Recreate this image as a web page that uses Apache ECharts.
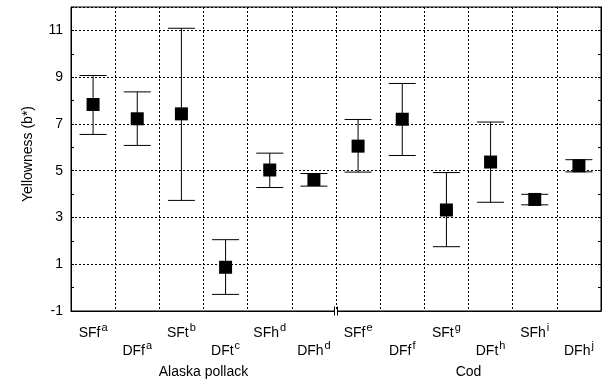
<!DOCTYPE html>
<html><head><meta charset="utf-8">
<script src="https://cdn.jsdelivr.net/npm/echarts@6/dist/echarts.min.js"></script>
<style>html,body{margin:0;padding:0;background:#fff}#c{width:612px;height:385px}</style>
</head><body><div id="c"></div>
<script>
const categories = ['SFf','DFf','SFt','DFt','SFh','DFh','SFf','DFf','SFt','DFt','SFh','DFh'];
const supers = ['a','a','b','c','d','d','e','f','g','h','i','j'];
const means = [7.83, 7.22, 7.43, 0.87, 5.03, 4.62, 6.05, 7.20, 3.32, 5.37, 3.77, 5.21];
const upper = [9.07, 8.37, 11.09, 2.05, 5.75, 4.88, 7.19, 8.73, 4.92, 7.08, 3.99, 5.47];
const lower = [6.55, 6.08, 3.73, -0.29, 4.28, 4.34, 4.94, 5.65, 1.75, 3.65, 3.54, 4.95];
const groups = ['Alaska pollack', 'Cod'];
const yMin = -1, yMax = 12, yStep = 2;

const FONT = '"Liberation Sans", Arial, sans-serif';
const catIds = categories.map((c, i) => c + '^' + supers[i]);
const rich = {
  n: {fontFamily: FONT, fontSize: 14, color: '#000'},
  s: {fontFamily: FONT, fontSize: 11, color: '#000', padding: [0, 0, 12, 1]}
};
function fmt(v, i) { return '{n|' + categories[i] + '}{s|' + supers[i] + '}'; }

const chart = echarts.init(document.getElementById('c'), null, {renderer: 'canvas'});
const grid = {left: 71, right: 11, top: 7, bottom: 74, show: true, borderColor: '#000', borderWidth: 1, containLabel: false};
const option = {
  animation: false,
  grid: grid,
  xAxis: [
    {type: 'category', data: catIds, position: 'bottom',
     axisLine: {onZero: false, lineStyle: {color: '#000', width: 1}}, axisTick: {show: false},
     splitLine: {show: true, interval: 0, lineStyle: {color: '#000', type: [2, 2], width: 1}},
     axisLabel: {interval: (i) => i % 2 === 0, margin: 11, formatter: fmt, rich: rich}},
    {type: 'category', data: catIds, position: 'bottom',
     axisLine: {show: false, onZero: false}, axisTick: {show: false}, splitLine: {show: false},
     axisLabel: {interval: (i) => i % 2 === 1, margin: 29, formatter: fmt, rich: rich}},
    {type: 'category', data: groups, position: 'bottom',
     axisLine: {show: false, onZero: false}, axisTick: {show: false}, splitLine: {show: false},
     axisLabel: {interval: 0, margin: 54, fontFamily: FONT, fontSize: 14, color: '#000'}}
  ],
  yAxis: [
    {type: 'value', min: yMin, max: yMax, interval: yStep, position: 'left',
     name: 'Yellowness (b*)', nameLocation: 'middle', nameGap: 36,
     nameTextStyle: {fontFamily: FONT, fontSize: 14, color: '#000', padding: [0, 0, 0, 10]},
     axisLine: {show: true, lineStyle: {color: '#000'}},
     axisTick: {show: true, inside: true, length: 3, lineStyle: {color: '#000'}},
     minorTick: {show: true, splitNumber: 2, length: 3, lineStyle: {color: '#000'}},
     splitLine: {show: true, lineStyle: {color: '#000', type: [2, 2], width: 1}},
     axisLabel: {margin: 8, fontFamily: FONT, fontSize: 14, color: '#000',
                 showMaxLabel: false,
                 formatter: (v) => (v > 11.5 ? '' : String(v))}},
    {type: 'value', min: yMin, max: yMax, interval: yStep, position: 'right',
     axisLine: {show: true, lineStyle: {color: '#000'}},
     axisTick: {show: true, inside: true, length: 3, lineStyle: {color: '#000'}},
     minorTick: {show: true, splitNumber: 2, length: 3, lineStyle: {color: '#000'}},
     splitLine: {show: false}, axisLabel: {show: false}}
  ],
  series: [
    {type: 'custom', xAxisIndex: 0, yAxisIndex: 0,
     data: categories.map((c, i) => [i, lower[i], upper[i]]),
     renderItem: function (params, api) {
       const x = api.value(0);
       const lo = api.coord([x, api.value(1)]);
       const hi = api.coord([x, api.value(2)]);
       const hw = 13.5;
       const st = {stroke: '#000', lineWidth: 1};
       return {type: 'group', children: [
         {type: 'line', shape: {x1: lo[0], y1: lo[1], x2: hi[0], y2: hi[1]}, style: st},
         {type: 'line', shape: {x1: lo[0] - hw, y1: lo[1], x2: lo[0] + hw, y2: lo[1]}, style: st},
         {type: 'line', shape: {x1: hi[0] - hw, y1: hi[1], x2: hi[0] + hw, y2: hi[1]}, style: st}
       ]};
     }, z: 3},
    {type: 'scatter', xAxisIndex: 0, yAxisIndex: 0, symbol: 'rect', symbolSize: 13,
     itemStyle: {color: '#000', opacity: 1}, data: means.map((m, i) => [i, m]), z: 4}
  ]
};
chart.setOption(option);
// axis break mark between the two groups
const p5 = chart.convertToPixel({xAxisIndex: 0, yAxisIndex: 0}, [5, yMin]);
const p6 = chart.convertToPixel({xAxisIndex: 0, yAxisIndex: 0}, [6, yMin]);
const bx = (p5[0] + p6[0]) / 2, by = p5[1];
chart.setOption({graphic: [
  {type: 'rect', shape: {x: bx - 1.5, y: by - 1, width: 3, height: 2}, style: {fill: '#fff'}, z: 100},
  {type: 'line', shape: {x1: bx - 1.5, y1: by - 4.5, x2: bx - 1.5, y2: by + 4.5}, style: {stroke: '#000', lineWidth: 1}, z: 101},
  {type: 'line', shape: {x1: bx + 1.5, y1: by - 4.5, x2: bx + 1.5, y2: by + 4.5}, style: {stroke: '#000', lineWidth: 1}, z: 101}
]});
</script></body></html>
